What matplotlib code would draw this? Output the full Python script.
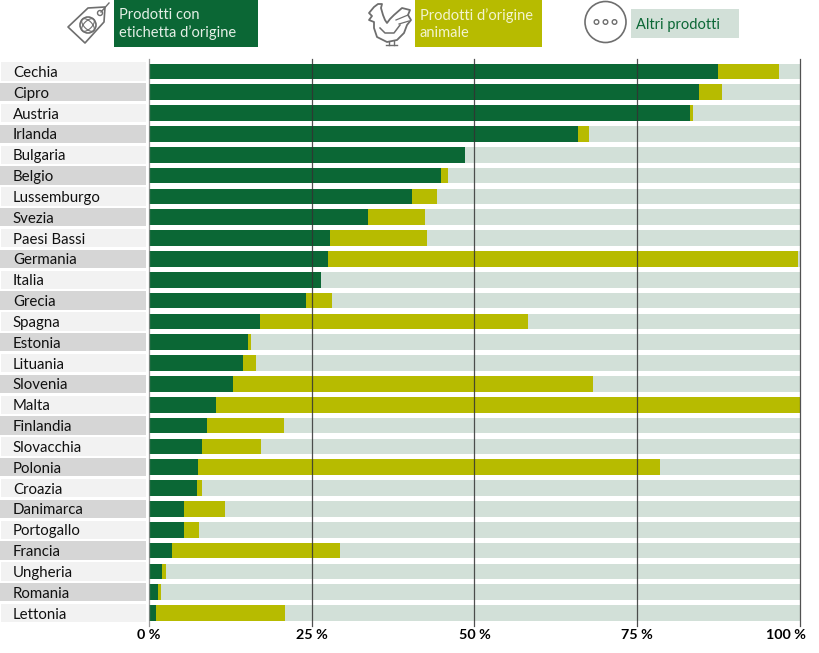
import matplotlib
matplotlib.use('Agg')
import matplotlib.pyplot as plt
from matplotlib.patches import Circle, Ellipse, Polygon, Rectangle
from matplotlib.transforms import ScaledTranslation

plt.rcParams['font.family'] = ['Lato', 'DejaVu Sans']

# Share of each product group (percent)
countries = ['Cechia', 'Cipro', 'Austria', 'Irlanda', 'Bulgaria', 'Belgio', 'Lussemburgo',
             'Svezia', 'Paesi Bassi', 'Germania', 'Italia', 'Grecia', 'Spagna', 'Estonia',
             'Lituania', 'Slovenia', 'Malta', 'Finlandia', 'Slovacchia', 'Polonia', 'Croazia',
             'Danimarca', 'Portogallo', 'Francia', 'Ungheria', 'Romania', 'Lettonia']
origin_label = [87.4, 84.5, 83.1, 65.9, 48.5, 44.9, 40.4, 33.6, 27.8, 27.5, 26.4, 24.1, 17.0,
                15.2, 14.4, 12.9, 10.3, 8.9, 8.1, 7.5, 7.4, 5.4, 5.4, 3.5, 2.0, 1.4, 1.0]
animal = [9.4, 3.5, 0.5, 1.7, 0.1, 1.0, 3.8, 8.8, 14.9, 72.2, 0.0, 4.0, 41.2,
          0.5, 2.0, 55.3, 89.7, 11.8, 9.1, 71.0, 0.7, 6.3, 2.3, 25.8, 0.6, 0.4, 19.9]
ticks = [0, 25, 50, 75, 100]
tick_labels = ['0 %', '25 %', '50 %', '75 %', '100 %']

GREEN = '#0b6735'
OLIVE = '#b7bb00'
PALE = '#d2e0d8'
ICON = '#6e6e6e'
W, H = 820, 653

fig = plt.figure(figsize=(W / 100, H / 100), dpi=100)

# Main chart, axes placed so that 0-100 % runs from x=149 to x=800
ax = fig.add_axes([149 / W, 1 - 623.5 / H, 651 / W, (623.5 - 61) / H])
rows = list(range(len(countries)))
other = [100 - a - b for a, b in zip(origin_label, animal)]
left2 = [a + b for a, b in zip(origin_label, animal)]

# Alternating label bands left of the bars
for i in rows:
    if i % 2:
        ax.barh(i, 22.4, left=-22.9, height=0.88, color='#d6d6d6', clip_on=False)
    else:
        ax.barh(i, 22.2, left=-22.7, height=0.88, color='#f2f2f2', clip_on=False)

ax.barh(rows, origin_label, height=0.75, color=GREEN)
ax.barh(rows, animal, left=origin_label, height=0.75, color=OLIVE)
ax.barh(rows, other, left=left2, height=0.75, color=PALE)

ax.set_xlim(0, 100)
ax.set_ylim(len(countries) - 0.5, -0.5)
ax.set_yticks(rows)
ax.set_yticklabels(countries, fontsize=10.8, color='#111111', ha='left')
ax.tick_params(axis='y', length=0, pad=98)
ax.set_xticks(ticks)
ax.set_xticklabels(tick_labels, fontsize=10.3, fontweight='bold', color='#000000')
ax.tick_params(axis='x', length=0, pad=4)
# The 100 % label stays inside the canvas in the original
last = ax.get_xticklabels()[-1]
last.set_transform(last.get_transform() + ScaledTranslation(-14 / 100, 0, fig.dpi_scale_trans))
for s in ax.spines.values():
    s.set_visible(False)

# Vertical guide lines sit on top of the bars
for t in ticks:
    ax.plot([t, t], [len(countries) - 0.4, -0.62], color='#333333' if t else '#8a8a8a',
            lw=0.9, alpha=0.85, clip_on=False, zorder=5)

# Legend and icons, in pixel coordinates
top = fig.add_axes([0, 0, 1, 1], facecolor='none')
top.set_xlim(0, W)
top.set_ylim(H, 0)
top.axis('off')

top.add_patch(Rectangle((114, 0), 144.5, 47, color=GREEN, lw=0))
top.add_patch(Rectangle((415, 0), 127, 47, color=OLIVE, lw=0))
top.add_patch(Rectangle((631, 9), 108, 29, color=PALE, lw=0))
top.text(119, 24, 'Prodotti con\netichetta d\u2019origine', color='#e4efe6', fontsize=10.5,
         va='center', linespacing=1.3)
top.text(420, 24, 'Prodotti d\u2019origine\nanimale', color='#f3f4cf', fontsize=10.5,
         va='center', linespacing=1.3)
top.text(636, 24.5, 'Altri prodotti', color=GREEN, fontsize=10.5, va='center')

# Tag icon
top.add_patch(Polygon([(68, 27), (88, 8), (105, 7), (104, 22), (85, 43)], closed=True,
                      fill=False, ec=ICON, lw=1.2, joinstyle='round'))
top.add_patch(Circle((88, 25), 8, fill=False, ec=ICON, lw=1.2))
top.add_patch(Ellipse((88, 25), 8, 16, angle=45, fill=False, ec=ICON, lw=0.8))
top.add_patch(Ellipse((88, 25), 8, 16, angle=-45, fill=False, ec=ICON, lw=0.8))
top.add_patch(Circle((100, 13), 2.5, fill=False, ec=ICON, lw=1.0))
top.plot([101, 109], [12, 3], color=ICON, lw=1.0)

# Rooster icon
rooster = [(369, 13), (374, 7), (378, 4), (382, 4), (381, 8), (383, 15), (385, 20), (387, 23),
           (390, 19), (394, 15), (402, 8), (410, 10), (408, 15), (411, 20), (407, 25),
           (404, 33), (397, 40), (387, 42), (377, 37), (374, 28), (374, 22), (369, 20), (372, 16)]
top.add_patch(Polygon(rooster, closed=True, fill=False, ec=ICON, lw=1.3, joinstyle='round'))
top.plot([380, 385, 394, 400], [28, 33, 33, 25], color=ICON, lw=1.1)
top.plot([396, 408], [20, 15], color=ICON, lw=0.9)
top.plot([399, 409], [24, 21], color=ICON, lw=0.9)
top.plot([389, 389], [42, 45], color=ICON, lw=1.0)
top.plot([394, 394], [41, 45], color=ICON, lw=1.0)
top.plot([386, 397], [45, 45], color=ICON, lw=1.0)

# Three dots icon
top.add_patch(Circle((605.5, 22), 20.5, fill=False, ec=ICON, lw=1.2))
for cx in (596.5, 605.5, 614.5):
    top.add_patch(Circle((cx, 22), 2.3, fill=False, ec=ICON, lw=1.0))

fig.savefig('out.png', dpi=100)
